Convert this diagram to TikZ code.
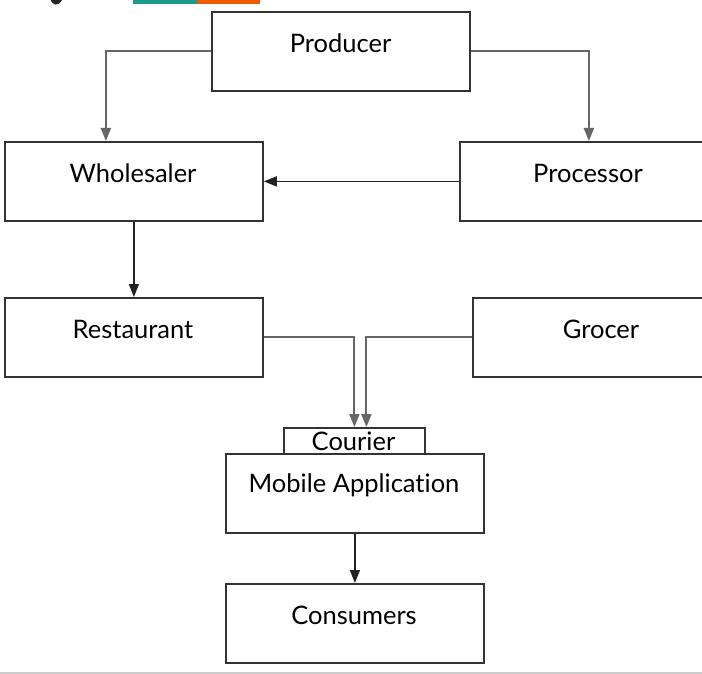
\documentclass[tikz,border=0pt]{standalone}
\usepackage{fontspec}
\setmainfont{Lato}[Ligatures={NoCommon}]
\usetikzlibrary{arrows.meta}
\definecolor{boxline}{HTML}{333333}
\definecolor{grayline}{HTML}{666666}
\definecolor{darkline}{HTML}{222222}
\definecolor{tealbar}{HTML}{1B9A8A}
\definecolor{orangebar}{HTML}{EF5B00}
\tikzset{
  box/.style={draw=boxline, line width=1.8pt, rectangle, anchor=north west, inner sep=0pt, minimum width=258pt, minimum height=79pt},
  lbl/.style={font=\fontsize{25.5pt}{30pt}\selectfont, text=black, inner sep=0pt},
  gconn/.style={draw=grayline, line width=2pt, -{Triangle[length=13pt,width=10pt]}},
  dconn/.style={draw=darkline, line width=1.5pt, -{Triangle[length=13pt,width=10pt]}},
}
\begin{document}
\begin{tikzpicture}[x=1pt,y=-1pt]
\clip (0,0) rectangle (702,674);
\fill[white] (0,0) rectangle (702,674);
% top fragments
\fill[tealbar] (133,-2) rectangle (197,4);
\fill[orangebar] (197,-2) rectangle (260,4);
\fill[black!85] (50,-2) .. controls (52,6) and (58,7) .. (62,0) -- cycle;
% bottom rule
\fill[black!20] (0,671.5) rectangle (702,674);
% boxes
\node[box] (prod) at (211,11) {};
\node[box] (whole) at (4,141) {};
\node[box] (proc) at (459,141) {};
\node[box] (rest) at (4,297) {};
\node[box] (groc) at (472,297) {};
\node[box, minimum width=141pt, minimum height=26pt] (cour) at (283,427) {};
\node[box] (mob) at (225,453) {};
\node[box] (cons) at (225,583) {};
% labels
\node[lbl] (tprod) at (340.5,43.5) {Producer};
\node[lbl] (twhole) at (133,173.5) {Wholesaler};
\node[lbl] (tproc) at (588,173.5) {Processor};
\node[lbl] (trest) at (133,329.5) {Restaurant};
\node[lbl] (tgroc) at (601,329.5) {Grocer};
\node[lbl] (tcour) at (353.5,441) {Courier};
\node[lbl] (tmob) at (354,485.5) {Mobile Application};
\node[lbl] (tcons) at (354,615.5) {Consumers};
% connectors
\draw[gconn] (prod.west) -| ([xshift=-28pt]whole.north);
\draw[gconn] (prod.east) -| (proc.north);
\draw[dconn] (proc.west) -- (whole.east);
\draw[dconn] (whole.south) -- (rest.north);
\draw[gconn] (rest.east) -| (cour.north);
\draw[gconn] (groc.west) -| ([xshift=12pt]cour.north);
\draw[dconn] (mob.south) -- (cons.north);
\end{tikzpicture}
\end{document}
